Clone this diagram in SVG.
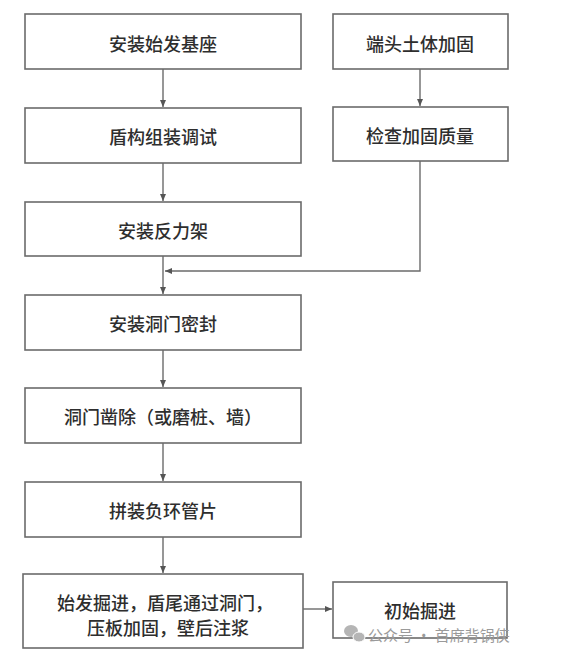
<svg xmlns="http://www.w3.org/2000/svg" width="567" height="657" viewBox="0 0 567 657">
<style>
.box{fill:#fff;stroke:#6b6b6b;stroke-width:1.6}
.t{font-family:"Noto Sans CJK SC","Noto Sans",sans-serif;font-size:18px;font-weight:500;fill:#2e2e2e;text-anchor:middle;dominant-baseline:central}
.ln{fill:none;stroke:#6b6b6b;stroke-width:1.4}
.wm{font-family:"Noto Sans CJK SC","Noto Sans",sans-serif;font-size:15px;fill:#9a9a9a;dominant-baseline:central}
</style>
<defs>
<marker id="ar" markerWidth="8" markerHeight="8" refX="7" refY="4" orient="auto" markerUnits="userSpaceOnUse">
<path d="M0,1 L7,4 L0,7 Z" fill="#555"/>
</marker>
</defs>
<rect width="567" height="657" fill="#fff"/>
<g id="connectors">
<line class="ln" x1="163" y1="69" x2="163" y2="107" marker-end="url(#ar)"/>
<line class="ln" x1="420" y1="69" x2="420" y2="106" marker-end="url(#ar)"/>
<line class="ln" x1="163" y1="163" x2="163" y2="201" marker-end="url(#ar)"/>
<line class="ln" x1="163" y1="256" x2="163" y2="294" marker-end="url(#ar)"/>
<polyline class="ln" points="420,161 420,271 165,271" marker-end="url(#ar)"/>
<line class="ln" x1="163" y1="350" x2="163" y2="387" marker-end="url(#ar)"/>
<line class="ln" x1="163" y1="443" x2="163" y2="481" marker-end="url(#ar)"/>
<line class="ln" x1="163" y1="537" x2="163" y2="573" marker-end="url(#ar)"/>
<line class="ln" x1="303" y1="609" x2="332" y2="609" marker-end="url(#ar)"/>
</g>
<g id="n1"><rect class="box" x="25" y="14" width="276" height="55"/><text class="t" x="163" y="43">安装始发基座</text></g>
<g id="n2"><rect class="box" x="333" y="14" width="175" height="55"/><text class="t" x="420" y="43">端头土体加固</text></g>
<g id="n3"><rect class="box" x="25" y="108" width="276" height="55"/><text class="t" x="163" y="136">盾构组装调试</text></g>
<g id="n4"><rect class="box" x="333" y="107" width="175" height="54"/><text class="t" x="420" y="135">检查加固质量</text></g>
<g id="n5"><rect class="box" x="25" y="202" width="276" height="54"/><text class="t" x="163" y="230">安装反力架</text></g>
<g id="n6"><rect class="box" x="25" y="295" width="276" height="55"/><text class="t" x="163" y="323">安装洞门密封</text></g>
<g id="n7"><rect class="box" x="25" y="388" width="276" height="55"/><text class="t" x="163" y="416">洞门凿除（或磨桩、墙）</text></g>
<g id="n8"><rect class="box" x="25" y="482" width="276" height="55"/><text class="t" x="163" y="510">拼装负环管片</text></g>
<g id="n9"><rect class="box" x="23" y="574" width="280" height="74"/><text class="t" x="165" y="602">始发掘进，盾尾通过洞门，</text><text class="t" x="168" y="627">压板加固，壁后注浆</text></g>
<g id="n10"><rect class="box" x="333" y="582" width="174" height="56"/><text class="t" x="420" y="610">初始掘进</text></g>
<g id="watermark">
<ellipse cx="351" cy="631" rx="7" ry="6" fill="#b5b5b5"/>
<ellipse cx="359" cy="637" rx="6" ry="5" fill="#b5b5b5" stroke="#fff" stroke-width="1"/>
<text class="wm" x="368" y="634">公众号 · 首席背锅侠</text>
</g>
</svg>
